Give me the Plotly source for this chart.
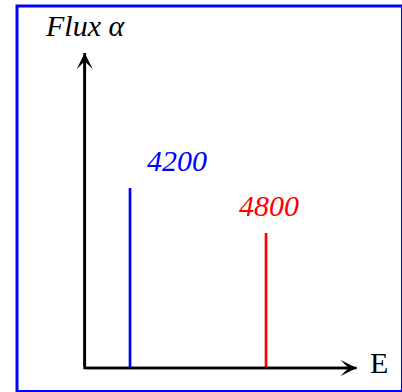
import plotly.graph_objects as go

# ---- data ----
energies = [4200, 4800]          # E of the two lines
fluxes = [4, 3]                  # Flux alpha heights
line_colors = ["blue", "red"]
line_labels = ["4200", "4800"]
axis_origin = (4000, 0)
axis_end_x = 5200
axis_end_y = 7
x_title = "E"
y_title = "Flux α"

# ---- layout geometry (pixels) ----
W, H = 402, 392
ox_px, oy_px = 84.7, 368         # pixel position of axis origin
px_per_x = 136 / 600
px_per_y = 45 / 1

x_range = [axis_origin[0] - ox_px / px_per_x, axis_origin[0] + (W - ox_px) / px_per_x]
y_range = [axis_origin[1] - (H - oy_px) / px_per_y, axis_origin[1] + oy_px / px_per_y]

FONT = "Liberation Serif"
FS = 30

fig = go.Figure()

# axes path
fig.add_trace(go.Scatter(
    x=[axis_origin[0], axis_origin[0], axis_end_x],
    y=[axis_end_y, axis_origin[1], axis_origin[1]],
    mode="lines", line=dict(color="black", width=2.7),
    hoverinfo="skip"))

# spectral lines
for e, f, c in zip(energies, fluxes, line_colors):
    fig.add_trace(go.Scatter(x=[e, e], y=[axis_origin[1], f], mode="lines",
                             line=dict(color=c, width=2.7), hoverinfo="skip"))

anns = []
# arrowheads
anns.append(dict(x=axis_origin[0], y=axis_end_y, ax=axis_origin[0], ay=axis_origin[1],
                 xref="x", yref="y", axref="x", ayref="y", text="", showarrow=True,
                 arrowhead=3, arrowsize=1, arrowwidth=2.7, arrowcolor="black"))
anns.append(dict(x=axis_end_x, y=axis_origin[1], ax=axis_origin[0], ay=axis_origin[1],
                 xref="x", yref="y", axref="x", ayref="y", text="", showarrow=True,
                 arrowhead=3, arrowsize=1, arrowwidth=2.7, arrowcolor="black"))

# line labels
label_pos = [(4405, 4.62), (4812, 3.62)]
for (lx, ly), t, c in zip(label_pos, line_labels, line_colors):
    anns.append(dict(x=lx, y=ly, xref="x", yref="y", text=f"<i>{t}</i>", showarrow=False,
                     xanchor="center", yanchor="middle",
                     font=dict(family=FONT, size=FS, color=c)))

# axis titles
anns.append(dict(x=axis_origin[0], y=7.62, xref="x", yref="y", text=f"<i>{y_title}</i>",
                 showarrow=False, xanchor="center", yanchor="middle",
                 font=dict(family=FONT, size=FS, color="black")))
anns.append(dict(x=5300, y=0.13, xref="x", yref="y", text=x_title,
                 showarrow=False, xanchor="center", yanchor="middle",
                 font=dict(family=FONT, size=FS, color="black")))

fig.update_layout(
    width=W, height=H, margin=dict(l=0, r=0, t=0, b=0, pad=0),
    paper_bgcolor="white", plot_bgcolor="white", showlegend=False,
    xaxis=dict(range=x_range, visible=False, fixedrange=True),
    yaxis=dict(range=y_range, visible=False, fixedrange=True),
    annotations=anns,
    shapes=[dict(type="rect", xref="paper", yref="paper",
                 x0=17 / W, x1=402.5 / W, y0=1 - 391.5 / H, y1=1 - 6 / H,
                 line=dict(color="blue", width=3), layer="above")],
)

fig.write_html("out.html", config={"displayModeBar": False})
